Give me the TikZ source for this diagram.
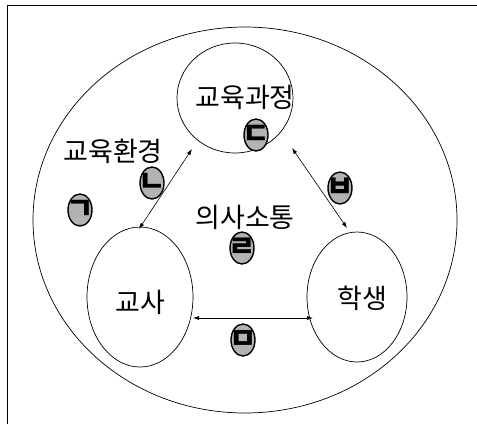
\documentclass[tikz,border=0pt]{standalone}
\usepackage{fontspec}
\setmainfont{Noto Sans CJK KR}
\usetikzlibrary{arrows.meta}
\begin{document}
\begin{tikzpicture}[x=1pt,y=-1pt,
  lbl/.style={font=\fontsize{27}{29}\selectfont, inner sep=0pt},
  ring/.style={draw, line width=0.7pt},
  jamo/.style={font=\fontsize{30}{30}\selectfont\bfseries, inner sep=0pt},
  conn/.style={line width=0.6pt, {Latex[length=6pt,width=4pt]}-{Latex[length=6pt,width=4pt]}}]
\useasboundingbox (0,0) rectangle (477,424);
% frame (top and left edges only)
\draw[line width=1pt] (7,424) -- (7,5) -- (477,5);
% outer ellipse
\draw[ring] (245,220) ellipse [x radius=212, y radius=193];
% inner ellipses
\draw[ring] (235,98) ellipse [x radius=58, y radius=55];
\draw[ring] (140,297) ellipse [x radius=53, y radius=70];
\draw[ring] (357,297) ellipse [x radius=50, y radius=65];
% anchor coordinates
\coordinate (tl) at (192,149);
\coordinate (lt) at (139,229);
\coordinate (tr) at (292,148);
\coordinate (rt) at (347,228);
\coordinate (lr) at (193,318);
\coordinate (rl) at (313,318);
\draw[conn] (tl) -- (lt);
\draw[conn] (tr) -- (rt);
\draw[conn] (lr) -- (rl);
% labels
\node[lbl] (curr) at (245,97) {교육과정};
\node[lbl] (env) at (113,151) {교육환경};
\node[lbl] (comm) at (245,217) {의사소통};
\node[lbl] (tea) at (140,302) {교사};
\node[lbl] (stu) at (362,298) {학생};
% badges
\foreach \n/\x/\y/\t in {bg/80/210/ㄱ, bn/152/183/ㄴ, bd/256/135/ㄷ, br/242/248/ㄹ, bm/243/340/ㅁ, bb/340/188/ㅂ}{
  \draw[line width=1.4pt, fill=gray!60] (\x,\y) ellipse [x radius=12, y radius=16];
  \node[jamo] (\n) at (\x,\y) {\t};
}
\end{tikzpicture}
\end{document}
